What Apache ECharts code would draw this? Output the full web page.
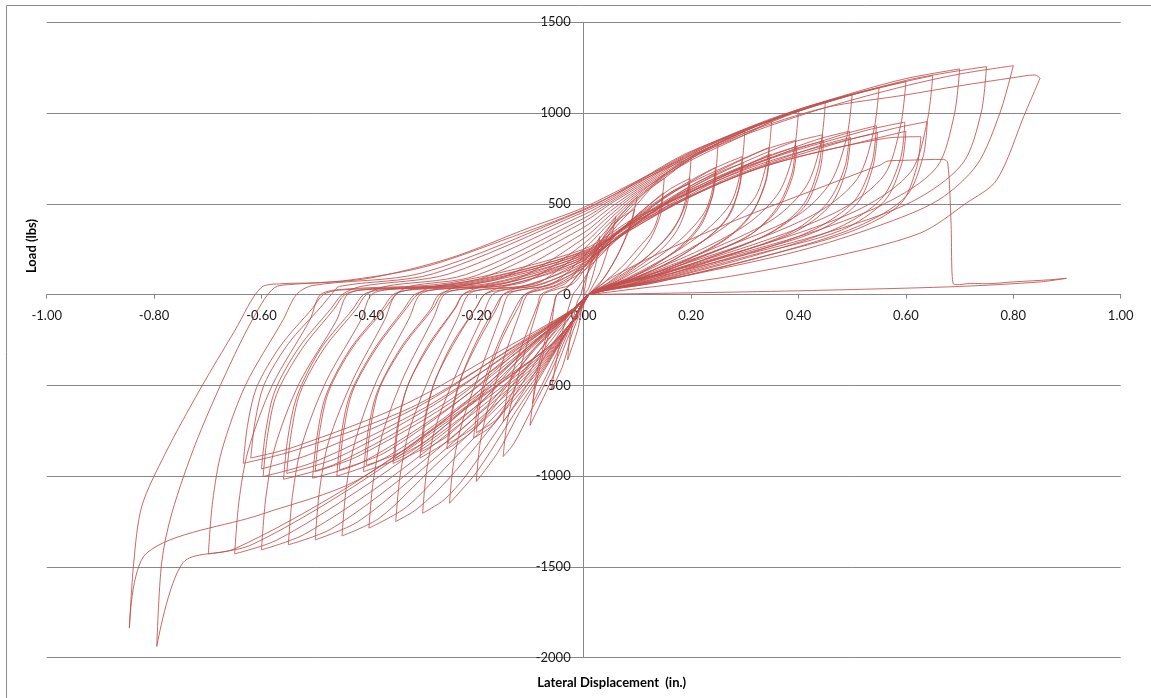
<!DOCTYPE html>
<html>
<head>
<meta charset="utf-8">
<script src="https://cdn.jsdelivr.net/npm/echarts@6/dist/echarts.min.js"></script>
<style>
html,body{margin:0;padding:0;background:#fff;}
#chart{width:1151px;height:698px;}
</style>
</head>
<body>
<div id="chart"></div>
<script>
// ---- axis definitions ----
const xMin = -1.0, xMax = 1.0, xStep = 0.2;
const yMin = -2000, yMax = 1500, yStep = 500;
const xTitle = 'Lateral Displacement  (in.)';
const yTitle = 'Load (lbs)';

// ---- hysteresis loops: [displacement (in.), load (lbs)] ----
const cyc003 = [[0,0],[0.01,150],[0.03,320],[0.025,200],[0.01,40],[0,-10],[-0.01,-180],[-0.03,-360],[-0.025,-220],[-0.012,-40],[-0.005,0]];
const cyc006 = [[0.0,60],[0.03,280],[0.06,430],[0.05,300],[0.03,120],[0.01,10],[-0.02,-200],[-0.04,-400],[-0.06,-520],[-0.05,-350],[-0.035,-150],[-0.02,0]];
const cyc010 = [[-0.01,40],[0.02,180],[0.06,400],[0.1,540],[0.09,420],[0.07,260],[0.04,100],[0.01,0],[-0.02,-170],[-0.06,-470],[-0.1,-720],[-0.093,-560],[-0.08,-380],[-0.06,-160],[-0.05,0]];
const cyc010b = [[-0.03,40],[0.02,230],[0.06,400],[0.095,470],[0.085,360],[0.06,200],[0.03,60],[0.01,0],[-0.03,-200],[-0.07,-450],[-0.095,-600],[-0.088,-440],[-0.07,-230],[-0.055,-50],[-0.05,0]];
const cyc015 = [[-0.03,40],[0,150],[0.05,340],[0.1,500],[0.13,600],[0.15,640],[0.145,510],[0.13,360],[0.1,250],[0.07,150],[0.035,60],[0.01,0],[-0.02,-150],[-0.06,-420],[-0.1,-650],[-0.13,-820],[-0.15,-892],[-0.143,-710],[-0.13,-540],[-0.11,-320],[-0.09,-120],[-0.075,0]];
const cyc015b = [[-0.05,30],[-0.02,60],[0,130],[0.05,300],[0.1,440],[0.14,540],[0.148,560],[0.143,440],[0.125,310],[0.1,210],[0.07,120],[0.035,45],[0.01,0],[-0.02,-100],[-0.07,-330],[-0.11,-520],[-0.14,-660],[-0.15,-700],[-0.142,-540],[-0.127,-380],[-0.105,-200],[-0.085,-50],[-0.08,0]];
const cyc020 = [[-0.05,40],[-0.03,70],[0,180],[0.05,360],[0.1,520],[0.15,660],[0.2,750],[0.195,600],[0.18,430],[0.15,300],[0.11,190],[0.05,70],[0.01,0],[-0.02,-150],[-0.07,-400],[-0.12,-650],[-0.16,-870],[-0.2,-1030],[-0.193,-820],[-0.178,-620],[-0.15,-360],[-0.12,-110],[-0.105,0]];
const cyc020b = [[-0.08,30],[-0.05,55],[0,150],[0.05,300],[0.1,440],[0.16,580],[0.198,640],[0.193,500],[0.175,360],[0.145,250],[0.1,150],[0.05,55],[0.01,0],[-0.02,-100],[-0.08,-330],[-0.13,-560],[-0.17,-720],[-0.205,-790],[-0.197,-615],[-0.18,-430],[-0.155,-240],[-0.125,-60],[-0.11,0]];
const cyc020c = [[-0.08,25],[-0.05,50],[0,130],[0.05,270],[0.1,410],[0.16,560],[0.197,610],[0.189,490],[0.165,350],[0.13,240],[0.09,140],[0.04,45],[0.01,0],[-0.02,-80],[-0.07,-260],[-0.12,-470],[-0.16,-680],[-0.2,-760],[-0.192,-590],[-0.175,-420],[-0.15,-230],[-0.12,-60],[-0.11,0]];
const cyc025 = [[-0.08,40],[-0.05,75],[0,210],[0.05,380],[0.1,530],[0.15,640],[0.2,750],[0.25,830],[0.245,660],[0.228,470],[0.19,330],[0.14,210],[0.07,85],[0.01,0],[-0.02,-150],[-0.07,-390],[-0.13,-660],[-0.2,-980],[-0.25,-1149],[-0.242,-920],[-0.225,-690],[-0.19,-400],[-0.155,-120],[-0.14,0]];
const cyc025b = [[-0.11,30],[-0.06,55],[0,160],[0.05,310],[0.12,480],[0.2,630],[0.245,700],[0.24,550],[0.22,390],[0.185,270],[0.13,160],[0.06,55],[0.01,0],[-0.02,-90],[-0.08,-300],[-0.15,-560],[-0.21,-760],[-0.255,-850],[-0.247,-660],[-0.23,-470],[-0.2,-260],[-0.165,-70],[-0.15,0]];
const cyc025c = [[-0.12,25],[-0.07,50],[0,150],[0.06,300],[0.125,450],[0.2,600],[0.247,670],[0.239,535],[0.215,380],[0.18,265],[0.125,150],[0.05,45],[0.01,0],[-0.02,-80],[-0.09,-290],[-0.15,-530],[-0.2,-720],[-0.252,-820],[-0.244,-640],[-0.227,-450],[-0.195,-250],[-0.16,-65],[-0.15,0]];
const cyc030 = [[-0.12,40],[-0.08,70],[0,250],[0.05,400],[0.1,540],[0.2,750],[0.26,850],[0.3,900],[0.294,710],[0.275,510],[0.23,360],[0.165,225],[0.08,90],[0.01,0],[-0.02,-150],[-0.07,-380],[-0.15,-700],[-0.22,-1000],[-0.26,-1130],[-0.3,-1204],[-0.292,-960],[-0.275,-720],[-0.235,-420],[-0.19,-130],[-0.17,0]];
const cyc030b = [[-0.14,30],[-0.08,55],[0,170],[0.06,330],[0.15,530],[0.24,690],[0.295,760],[0.29,600],[0.27,430],[0.225,300],[0.16,180],[0.07,60],[0.01,0],[-0.02,-90],[-0.09,-300],[-0.17,-580],[-0.25,-800],[-0.305,-900],[-0.297,-700],[-0.28,-500],[-0.245,-270],[-0.2,-70],[-0.185,0]];
const cyc030c = [[-0.155,25],[-0.09,50],[0,160],[0.06,310],[0.15,500],[0.25,670],[0.297,725],[0.289,580],[0.265,415],[0.22,290],[0.155,170],[0.06,50],[0.01,0],[-0.02,-80],[-0.1,-290],[-0.18,-560],[-0.25,-770],[-0.302,-865],[-0.294,-675],[-0.277,-475],[-0.24,-260],[-0.2,-70],[-0.185,0]];
const cyc035 = [[-0.155,40],[-0.1,80],[0,280],[0.05,420],[0.1,550],[0.2,760],[0.3,900],[0.35,960],[0.343,760],[0.32,540],[0.27,390],[0.19,240],[0.09,95],[0.01,0],[-0.02,-150],[-0.07,-370],[-0.15,-650],[-0.25,-1010],[-0.31,-1180],[-0.35,-1250],[-0.342,-1000],[-0.325,-750],[-0.285,-440],[-0.235,-130],[-0.215,0]];
const cyc035b = [[-0.185,30],[-0.1,55],[0,190],[0.06,340],[0.17,570],[0.29,740],[0.345,810],[0.34,640],[0.315,460],[0.27,320],[0.19,190],[0.08,60],[0.01,0],[-0.02,-90],[-0.09,-290],[-0.18,-560],[-0.29,-830],[-0.355,-930],[-0.347,-725],[-0.33,-520],[-0.29,-280],[-0.24,-75],[-0.225,0]];
const cyc035c = [[-0.195,25],[-0.11,50],[0,175],[0.07,330],[0.18,550],[0.3,710],[0.347,775],[0.339,620],[0.312,440],[0.265,305],[0.185,180],[0.07,55],[0.01,0],[-0.02,-80],[-0.1,-280],[-0.19,-540],[-0.29,-800],[-0.352,-900],[-0.344,-700],[-0.327,-495],[-0.285,-270],[-0.238,-70],[-0.225,0]];
const cyc040 = [[-0.195,40],[-0.12,90],[0,310],[0.05,440],[0.1,560],[0.2,740],[0.3,880],[0.36,970],[0.4,1017],[0.392,800],[0.365,570],[0.31,400],[0.22,250],[0.1,100],[0.01,0],[-0.02,-150],[-0.07,-360],[-0.15,-620],[-0.25,-930],[-0.33,-1170],[-0.4,-1286],[-0.392,-1030],[-0.375,-770],[-0.335,-450],[-0.28,-130],[-0.26,0]];
const cyc040b = [[-0.225,30],[-0.13,60],[0,200],[0.07,360],[0.2,600],[0.33,790],[0.395,850],[0.388,670],[0.36,480],[0.31,330],[0.21,200],[0.09,60],[0.01,0],[-0.02,-90],[-0.1,-300],[-0.2,-580],[-0.33,-880],[-0.41,-975],[-0.402,-760],[-0.385,-540],[-0.34,-290],[-0.285,-80],[-0.27,0]];
const cyc040c = [[-0.24,25],[-0.14,55],[0,185],[0.08,350],[0.21,580],[0.34,760],[0.397,815],[0.389,650],[0.36,465],[0.305,320],[0.205,190],[0.08,55],[0.01,0],[-0.02,-80],[-0.1,-280],[-0.21,-570],[-0.33,-850],[-0.405,-940],[-0.397,-730],[-0.38,-515],[-0.335,-280],[-0.28,-75],[-0.265,0]];
const cyc045 = [[-0.24,40],[-0.15,95],[0,340],[0.05,460],[0.1,570],[0.2,750],[0.3,890],[0.4,1010],[0.45,1063],[0.442,840],[0.415,600],[0.355,420],[0.25,265],[0.11,105],[0.01,0],[-0.02,-150],[-0.07,-350],[-0.16,-620],[-0.28,-950],[-0.38,-1230],[-0.45,-1329],[-0.442,-1060],[-0.425,-800],[-0.385,-470],[-0.325,-130],[-0.305,0]];
const cyc045b = [[-0.27,30],[-0.15,60],[0,210],[0.08,380],[0.22,620],[0.38,830],[0.445,880],[0.437,700],[0.41,500],[0.35,345],[0.24,210],[0.1,65],[0.01,0],[-0.02,-90],[-0.1,-290],[-0.22,-590],[-0.37,-900],[-0.46,-1000],[-0.452,-780],[-0.435,-550],[-0.39,-300],[-0.335,-80],[-0.315,0]];
const cyc045c = [[-0.285,25],[-0.16,55],[0,195],[0.09,360],[0.23,600],[0.39,800],[0.447,845],[0.439,675],[0.41,480],[0.345,335],[0.23,200],[0.09,60],[0.01,0],[-0.02,-80],[-0.11,-280],[-0.23,-580],[-0.37,-870],[-0.455,-965],[-0.447,-750],[-0.43,-530],[-0.385,-290],[-0.33,-75],[-0.31,0]];
const cyc050 = [[-0.285,40],[-0.18,100],[0,370],[0.05,480],[0.1,580],[0.2,760],[0.3,900],[0.4,1020],[0.5,1104],[0.49,870],[0.46,620],[0.4,440],[0.28,280],[0.12,110],[0.01,0],[-0.02,-140],[-0.07,-340],[-0.17,-620],[-0.3,-960],[-0.42,-1250],[-0.5,-1351],[-0.492,-1080],[-0.475,-810],[-0.43,-470],[-0.37,-135],[-0.35,0]];
const cyc050b = [[-0.315,30],[-0.17,65],[0,220],[0.09,390],[0.25,650],[0.43,850],[0.495,900],[0.487,710],[0.455,510],[0.39,350],[0.27,215],[0.11,70],[0.01,0],[-0.02,-90],[-0.1,-280],[-0.24,-600],[-0.41,-920],[-0.505,-1011],[-0.497,-790],[-0.48,-555],[-0.435,-300],[-0.375,-80],[-0.355,0]];
const cyc050c = [[-0.325,25],[-0.18,55],[0,205],[0.1,380],[0.26,630],[0.44,820],[0.497,865],[0.489,690],[0.46,495],[0.39,340],[0.255,205],[0.1,60],[0.01,0],[-0.02,-80],[-0.11,-270],[-0.25,-600],[-0.42,-890],[-0.5,-975],[-0.492,-760],[-0.475,-535],[-0.43,-290],[-0.37,-78],[-0.35,0]];
const cyc055 = [[-0.325,45],[-0.2,105],[0,400],[0.05,500],[0.1,590],[0.2,770],[0.3,910],[0.45,1060],[0.55,1140],[0.54,900],[0.51,640],[0.44,460],[0.31,290],[0.13,115],[0.01,0],[-0.02,-140],[-0.07,-330],[-0.18,-620],[-0.33,-990],[-0.47,-1290],[-0.55,-1378],[-0.542,-1100],[-0.525,-830],[-0.48,-480],[-0.415,-140],[-0.395,0]];
const cyc055b = [[-0.355,30],[-0.2,65],[0,230],[0.1,410],[0.28,680],[0.48,880],[0.545,930],[0.537,730],[0.505,520],[0.43,360],[0.3,220],[0.12,70],[0.01,0],[-0.02,-90],[-0.11,-290],[-0.27,-620],[-0.46,-930],[-0.559,-1017],[-0.551,-790],[-0.534,-560],[-0.49,-300],[-0.43,-80],[-0.41,0]];
const cyc055c = [[-0.38,25],[-0.21,55],[0,215],[0.1,390],[0.29,660],[0.49,850],[0.547,890],[0.539,710],[0.51,505],[0.435,350],[0.28,210],[0.11,65],[0.01,0],[-0.02,-80],[-0.12,-280],[-0.28,-610],[-0.46,-900],[-0.553,-985],[-0.545,-770],[-0.528,-540],[-0.483,-295],[-0.423,-78],[-0.405,0]];
const cyc060 = [[-0.37,45],[-0.22,110],[0,420],[0.05,510],[0.1,600],[0.2,775],[0.35,960],[0.5,1100],[0.6,1173],[0.59,930],[0.56,660],[0.48,470],[0.34,300],[0.14,115],[0.01,0],[-0.02,-140],[-0.07,-320],[-0.2,-640],[-0.36,-1010],[-0.52,-1320],[-0.6,-1406],[-0.592,-1120],[-0.575,-840],[-0.53,-490],[-0.46,-140],[-0.44,0]];
const cyc060b = [[-0.4,30],[-0.22,65],[0,240],[0.1,420],[0.3,700],[0.52,900],[0.598,950],[0.59,750],[0.555,530],[0.475,370],[0.33,225],[0.13,70],[0.01,0],[-0.02,-90],[-0.12,-290],[-0.3,-630],[-0.5,-920],[-0.597,-1002],[-0.589,-780],[-0.572,-550],[-0.525,-300],[-0.465,-80],[-0.445,0]];
const cyc060c = [[-0.415,25],[-0.23,55],[0,225],[0.1,400],[0.32,690],[0.53,850],[0.6,900],[0.592,720],[0.56,515],[0.48,355],[0.31,215],[0.12,65],[0.01,0],[-0.02,-80],[-0.13,-285],[-0.31,-620],[-0.51,-880],[-0.6,-960],[-0.592,-750],[-0.575,-530],[-0.53,-290],[-0.47,-75],[-0.45,0]];
const cyc065 = [[-0.415,45],[-0.25,115],[0,440],[0.05,520],[0.1,610],[0.2,780],[0.35,965],[0.5,1105],[0.65,1206],[0.64,960],[0.61,680],[0.52,480],[0.37,310],[0.15,120],[0.01,0],[-0.02,-140],[-0.07,-310],[-0.22,-660],[-0.4,-1040],[-0.57,-1350],[-0.65,-1428],[-0.642,-1140],[-0.625,-860],[-0.58,-500],[-0.51,-140],[-0.49,0]];
const cyc065b = [[-0.445,30],[-0.25,65],[0,250],[0.1,430],[0.33,720],[0.57,910],[0.64,953],[0.632,760],[0.6,540],[0.51,375],[0.36,230],[0.14,70],[0.01,0],[-0.02,-90],[-0.13,-290],[-0.32,-620],[-0.54,-860],[-0.634,-929],[-0.626,-720],[-0.609,-510],[-0.564,-280],[-0.505,-75],[-0.485,0]];
const cyc065c = [[-0.455,25],[-0.25,55],[0,235],[0.1,410],[0.33,700],[0.56,860],[0.628,870],[0.62,700],[0.59,500],[0.5,350],[0.34,215],[0.13,65],[0.01,0],[-0.02,-80],[-0.14,-285],[-0.33,-600],[-0.54,-840],[-0.62,-900],[-0.612,-700],[-0.595,-495],[-0.55,-270],[-0.49,-70],[-0.47,0]];
const cyc070 = [[-0.455,45],[-0.28,115],[0,455],[0.05,530],[0.1,620],[0.2,785],[0.35,970],[0.5,1110],[0.6,1190],[0.7,1243],[0.69,990],[0.657,700],[0.56,500],[0.4,320],[0.16,125],[0.01,0],[-0.02,-140],[-0.07,-300],[-0.24,-670],[-0.43,-1060],[-0.62,-1380],[-0.699,-1428],[-0.691,-1140],[-0.674,-860],[-0.63,-500],[-0.56,-140],[-0.535,0]];
const cyc075 = [[-0.505,50],[-0.3,120],[0,465],[0.05,540],[0.1,625],[0.2,790],[0.4,1010],[0.6,1180],[0.75,1256],[0.74,1000],[0.705,720],[0.61,510],[0.44,330],[0.18,130],[0.01,0],[-0.02,-140],[-0.07,-300],[-0.25,-680],[-0.45,-1080],[-0.65,-1400],[-0.746,-1476],[-0.795,-1938],[-0.786,-1479],[-0.767,-1204],[-0.72,-800],[-0.65,-330],[-0.6,-50],[-0.575,40]];
const cyc080 = [[-0.55,55],[-0.45,75],[-0.3,150],[-0.15,300],[0,470],[0.15,690],[0.3,880],[0.45,1030],[0.6,1150],[0.7,1215],[0.8,1261],[0.775,1000],[0.732,714],[0.66,520],[0.55,380],[0.4,240],[0.2,110],[0.05,30],[0.01,0],[-0.02,-140],[-0.07,-300],[-0.2,-560],[-0.42,-1020],[-0.6,-1210],[-0.814,-1424],[-0.846,-1837],[-0.838,-1478],[-0.823,-1167],[-0.78,-880],[-0.715,-525],[-0.65,-200],[-0.6,40],[-0.562,60]];
const cyc085 = [[-0.5,65],[-0.4,90],[-0.25,200],[-0.1,370],[0,480],[0.15,700],[0.3,890],[0.45,1030],[0.6,1100],[0.7,1150],[0.8,1195],[0.84,1210],[0.85,1193],[0.822,1000],[0.769,631],[0.713,505],[0.626,338],[0.45,200],[0.25,90],[0.05,15],[0.01,0]];
const cycFinal = [[0.05,90],[0.15,240],[0.3,430],[0.45,600],[0.53,690],[0.552,713],[0.565,735],[0.6,740],[0.67,745],[0.678,725],[0.684,400],[0.688,60],[0.7,55],[0.72,62],[0.75,60],[0.8,70],[0.87,82],[0.899,90],[0.85,70],[0.7,45],[0.5,28],[0.3,15],[0.1,5],[0,0]];

const loops = [cyc003, cyc006, cyc010, cyc010b, cyc015, cyc015b, cyc020, cyc020b, cyc020c,
  cyc025, cyc025b, cyc025c, cyc030, cyc030b, cyc030c, cyc035, cyc035b, cyc035c,
  cyc040, cyc040b, cyc040c, cyc045, cyc045b, cyc045c, cyc050, cyc050b, cyc050c,
  cyc055, cyc055b, cyc055c, cyc060, cyc060b, cyc060c, cyc065, cyc065b, cyc065c,
  cyc070, cyc075, cyc080, cyc085, cycFinal];
const path = [].concat(...loops);

// split the recorded path into branches wherever the displacement reverses,
// so every branch can be drawn smoothly while the peaks stay sharp
function splitBranches(pts) {
  const out = [];
  let cur = [pts[0]], dir = 0;
  for (let i = 1; i < pts.length; i++) {
    const dx = pts[i][0] - pts[i - 1][0];
    const s = dx > 0 ? 1 : (dx < 0 ? -1 : 0);
    if (dir !== 0 && s !== 0 && s !== dir) { out.push(cur); cur = [pts[i - 1]]; }
    if (s !== 0) dir = s;
    cur.push(pts[i]);
  }
  out.push(cur);
  return out;
}
const branches = splitBranches(path);

const chart = echarts.init(document.getElementById('chart'), null, {renderer: 'canvas'});
const FONT = 'Lato, "Open Sans", "DejaVu Sans", sans-serif';
const gridColor = '#888888';
const G = {left: 46.7, right: 30.3, top: 22.3, bottom: 40.3};
const gw = 1151 - G.left - G.right, gh = 698 - G.top - G.bottom;

chart.setOption({
  animation: false,
  backgroundColor: '#ffffff',
  grid: Object.assign({containLabel: false}, G),
  xAxis: {
    type: 'value', min: xMin, max: xMax, interval: xStep, position: 'bottom',
    offset: -gh * (0 - yMin) / (yMax - yMin),
    axisLine: {show: true, onZero: false, lineStyle: {color: gridColor, width: 1}},
    axisTick: {show: true, length: 4, lineStyle: {color: gridColor}},
    axisLabel: {formatter: v => v.toFixed(2), fontSize: 13, color: '#1a1a1a', margin: 15, fontFamily: FONT},
    splitLine: {show: false}
  },
  yAxis: {
    type: 'value', min: yMin, max: yMax, interval: yStep, position: 'left',
    offset: -gw * (0 - xMin) / (xMax - xMin),
    axisLine: {show: true, onZero: false, lineStyle: {color: gridColor, width: 1}},
    axisTick: {show: false},
    axisLabel: {formatter: v => String(v), fontSize: 13, color: '#1a1a1a', margin: 13, fontFamily: FONT},
    splitLine: {show: true, lineStyle: {color: gridColor, width: 1}}
  },
  graphic: [
    {type: 'rect', silent: true, z: -1, shape: {x: 6.5, y: 5.5, width: 1400, height: 900},
     style: {fill: 'none', stroke: '#8c8c8c', lineWidth: 1}},
    {type: 'text', x: 611.7, y: 683, silent: true,
     style: {text: xTitle, font: 'bold 13px ' + FONT, fill: '#000', align: 'center', verticalAlign: 'middle', textAlign: 'center', textVerticalAlign: 'middle'}},
    {type: 'text', x: 32, y: 246, rotation: Math.PI / 2, silent: true,
     style: {text: yTitle, font: 'bold 13px ' + FONT, fill: '#000', align: 'center', verticalAlign: 'middle', textAlign: 'center', textVerticalAlign: 'middle'}}
  ],
  series: branches.map(b => ({
    type: 'line', data: b, showSymbol: false, smooth: 0.3,
    lineStyle: {color: 'rgba(192,80,77,0.85)', width: 1}, silent: true
  }))
});
</script>
</body>
</html>
